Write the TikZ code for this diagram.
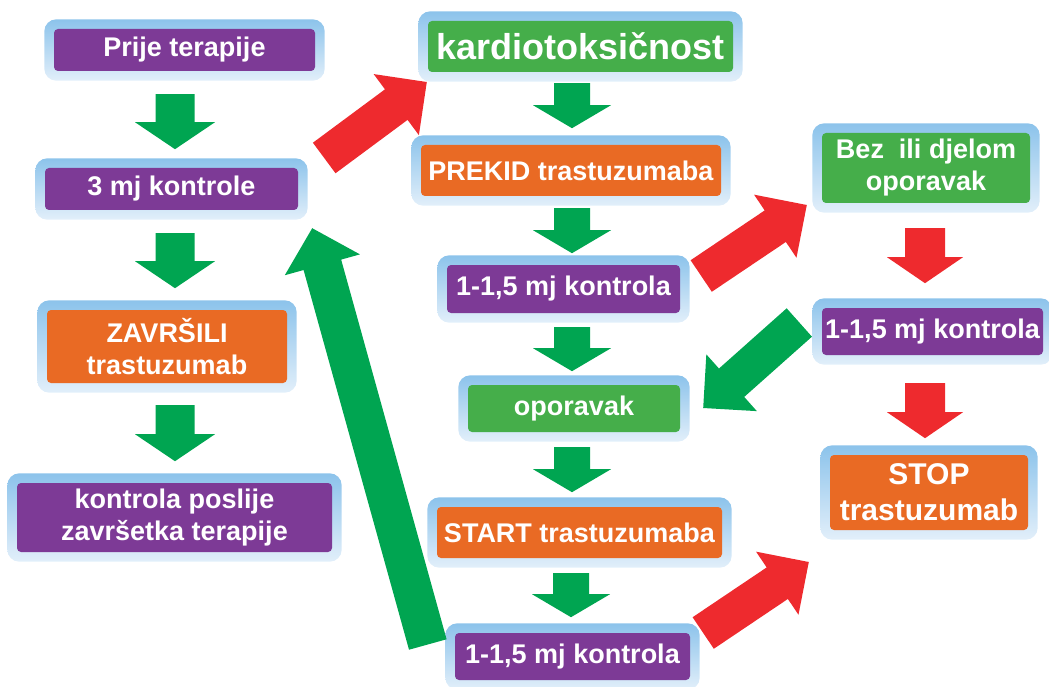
\documentclass[tikz,border=0pt]{standalone}
\usepackage{fontspec}
\setmainfont{Liberation Sans}
\usetikzlibrary{calc,fit,backgrounds}

\definecolor{lila}{RGB}{125,58,150}
\definecolor{narancasta}{RGB}{233,106,36}
\definecolor{zelena}{RGB}{69,174,74}
\definecolor{strelicazel}{RGB}{0,165,81}
\definecolor{crvena}{RGB}{238,42,46}
\definecolor{okvirgore}{RGB}{140,195,235}
\definecolor{okvirdolje}{RGB}{226,239,250}

% fill, shaft half width, head half width, head length, tail, tip
\newcommand{\blockarrow}[6]{%
  \path #5 coordinate (ba-t) #6 coordinate (ba-h);
  \path ($(ba-h)!#4!(ba-t)$) coordinate (ba-n);
  \fill[#1] ($(ba-t)!#2!90:(ba-h)$) -- ($(ba-n)!#2!90:(ba-h)$) -- ($(ba-n)!#3!90:(ba-h)$)
    -- (ba-h) -- ($(ba-n)!#3!-90:(ba-h)$) -- ($(ba-n)!#2!-90:(ba-h)$) -- ($(ba-t)!#2!-90:(ba-h)$) -- cycle;
}

\tikzset{
  box/.style={rounded corners=4pt, text=white, align=center, inner sep=0pt,
    font=\bfseries\fontsize{27}{32}\selectfont},
  frame/.style={rounded corners=12pt, top color=okvirgore, bottom color=okvirdolje, inner sep=9.5pt},
}

\begin{document}
\begin{tikzpicture}[x=1pt, y=-1pt]
    \useasboundingbox (0,0) rectangle (1049,687);

    % lijevi stupac
    \node [box, fill=lila, minimum width=261pt, minimum height=42pt] (prije) at (184.5,50) {Prije terapije};
    \node [box, fill=lila, minimum width=253pt, minimum height=42pt] (kontr) at (171.5,189) {3 mj kontrole};
    \node [box, fill=narancasta, minimum width=240pt, minimum height=73pt] (zavrsili) at (167,346.5) {ZAVRŠILI\\trastuzumab};
    \node [box, fill=lila, minimum width=315pt, minimum height=69pt] (poslije) at (174.5,517.5) {kontrola poslije\\završetka terapije};

    % srednji stupac
    \node [box, fill=zelena, minimum width=305pt, minimum height=51pt, font=\bfseries\fontsize{36}{40}\selectfont] (kardio) at (580.5,46.5) {kardiotoksičnost};
    \node [box, fill=narancasta, minimum width=300pt, minimum height=51pt] (prekid) at (571,170.5) {PREKID trastuzumaba};
    \node [box, fill=lila, minimum width=233pt, minimum height=48pt] (kontr1) at (563.5,289) {1-1,5 mj kontrola};
    \node [box, fill=zelena, minimum width=212pt, minimum height=47pt] (oporavak) at (574,408.5) {oporavak};
    \node [box, fill=narancasta, minimum width=285pt, minimum height=51pt] (start) at (579.5,532.5) {START trastuzumaba};
    \node [box, fill=lila, minimum width=235pt, minimum height=47pt] (kontr2) at (572.5,656.5) {1-1,5 mj kontrola};

    % desni stupac
    \node [box, fill=zelena, minimum width=208pt, minimum height=70pt] (bez) at (926,168) {Bez~ ili djelom\\oporavak};
    \node [box, fill=lila, minimum width=221pt, minimum height=47pt] (kontr3) at (932.5,331.5) {1-1,5 mj kontrola};
    \node [box, fill=narancasta, minimum width=198pt, minimum height=75pt, font=\bfseries\fontsize{30}{36}\selectfont] (stop) at (929,492.5) {STOP\\trastuzumab};

    \begin{scope}[on background layer]
        \foreach \b in {prije,kontr,zavrsili,poslije,kardio,prekid,kontr1,oporavak,start,kontr2,bez,kontr3,stop}
            \node [frame, fit=(\b)] {};
    \end{scope}

    % strelice dolje
    \blockarrow{strelicazel}{19.5pt}{40pt}{27pt}{($(prije.south)+(-9.5,23)$)}{($(prije.south)+(-9.5,78)$)}
    \blockarrow{strelicazel}{19.5pt}{40pt}{27pt}{($(kontr.south)+(3.5,23)$)}{($(kontr.south)+(3.5,78)$)}
    \blockarrow{strelicazel}{19.5pt}{40pt}{27pt}{($(zavrsili.south)+(8,22)$)}{($(zavrsili.south)+(8,78)$)}
    \blockarrow{strelicazel}{18pt}{39pt}{23pt}{($(kardio.south)+(-8.5,11)$)}{($(kardio.south)+(-8.5,56)$)}
    \blockarrow{strelicazel}{18pt}{39pt}{23pt}{($(prekid.south)+(1,12)$)}{($(prekid.south)+(1,57)$)}
    \blockarrow{strelicazel}{18pt}{39pt}{23pt}{($(kontr1.south)+(8.5,14)$)}{($(kontr1.south)+(8.5,58)$)}
    \blockarrow{strelicazel}{18pt}{39pt}{23pt}{($(oporavak.south)+(-2,15)$)}{($(oporavak.south)+(-2,60)$)}
    \blockarrow{strelicazel}{18pt}{39pt}{23pt}{($(start.south)+(-8.5,15)$)}{($(start.south)+(-8.5,59)$)}
    \blockarrow{crvena}{20pt}{38pt}{26pt}{($(bez.south)+(-1,25)$)}{($(bez.south)+(-1,80)$)}
    \blockarrow{crvena}{20pt}{38pt}{26pt}{($(kontr3.south)+(-7.5,28)$)}{($(kontr3.south)+(-7.5,83)$)}

    % kose strelice
    \blockarrow{crvena}{19pt}{38pt}{38pt}{($(kontr.east)+(26,-31)$)}{($(kardio.west)+(-1,35.5)$)}
    \blockarrow{crvena}{19pt}{38pt}{38pt}{($(kontr1.east)+(21,-13)$)}{($(bez.west)+(-15,37)$)}
    \blockarrow{crvena}{19pt}{38pt}{38pt}{($(kontr2.east)+(13,-23.5)$)}{($(stop.west)+(-21,69.5)$)}
    \blockarrow{strelicazel}{19pt}{38pt}{38pt}{($(kontr3.west)+(-22.5,-9)$)}{($(oporavak.east)+(23,-0.5)$)}
    \blockarrow{strelicazel}{19.5pt}{39pt}{38pt}{($(kontr2.west)+(-27,-12)$)}{($(kontr.south east)+(14,18)$)}
\end{tikzpicture}
\end{document}
